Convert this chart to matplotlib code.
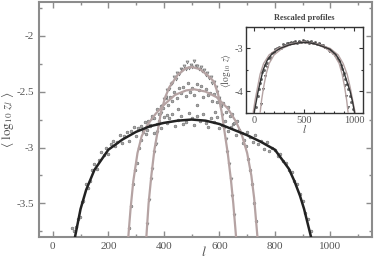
import numpy as np
import matplotlib
matplotlib.use("Agg")
import matplotlib.pyplot as plt
from matplotlib.ticker import MultipleLocator

plt.rcParams['font.family'] = ['Liberation Serif', 'DejaVu Serif']
plt.rcParams['mathtext.fontset'] = 'stix'

# ---- main panel: fitted lines ----
black_lx = [80, 100, 120, 150, 200, 250, 300, 350, 400, 450, 500, 550, 600, 650,
            700, 750, 800, 850, 870, 890, 905, 920, 930]
black_ly = [-3.80, -3.55, -3.38, -3.20, -3.02, -2.93, -2.86, -2.81, -2.78, -2.76,
            -2.75, -2.76, -2.79, -2.84, -2.89, -2.95, -3.02, -3.19, -3.30, -3.43,
            -3.55, -3.70, -3.80]

mid_lx = [272, 280, 290, 305, 320, 340, 370, 400, 440, 480, 510, 550, 590, 630,
          660, 680, 700, 715, 725, 737]
mid_ly = [-3.80, -3.55, -3.30, -3.05, -2.90, -2.80, -2.70, -2.62, -2.53, -2.49,
          -2.48, -2.50, -2.55, -2.65, -2.77, -2.88, -3.05, -3.25, -3.45, -3.80]

nar_lx = [337, 345, 355, 366, 378, 390, 405, 420, 450, 480, 500, 530, 560, 580,
          595, 608, 618, 630, 642, 650, 660]
nar_ly = [-3.80, -3.50, -3.25, -3.02, -2.85, -2.68, -2.55, -2.46, -2.35, -2.29,
          -2.28, -2.30, -2.36, -2.41, -2.52, -2.68, -2.85, -3.05, -3.30, -3.50, -3.80]

# ---- main panel: measured points ----
black_px = [70, 78, 84, 90, 97, 104, 110, 118, 126, 133, 141, 150, 158, 166, 175,
            183, 191, 200, 208, 216, 225, 233, 241, 250, 258, 266, 275, 283, 291,
            300, 308, 316, 325, 333, 341, 350, 358, 366, 375, 383, 391, 400, 410,
            420, 430, 440, 450, 460, 470, 480, 490, 500, 510, 520, 530, 540, 550,
            560, 570, 580, 590, 600, 610, 620, 630, 640, 650, 660, 670, 680, 690,
            700, 710, 720, 730, 740, 750, 760, 770, 780, 790, 800, 810, 820, 830,
            840, 850, 860, 870, 880, 890, 900, 910, 920, 930]
black_py = [-3.72, -3.75, -3.71, -3.64, -3.62, -3.49, -3.48, -3.33, -3.36, -3.30,
            -3.20, -3.15, -3.19, -3.11, -3.04, -3.07, -3.00, -3.06, -2.97, -2.94,
            -2.99, -2.95, -2.89, -2.96, -2.90, -2.86, -2.94, -2.85, -2.82, -2.90,
            -2.83, -2.81, -2.86, -2.77, -2.84, -2.80, -2.74, -2.87, -2.79, -2.76,
            -2.83, -2.73, -2.78, -2.74, -2.70, -2.81, -2.75, -2.72, -2.79, -2.77,
            -2.69, -2.74, -2.80, -2.72, -2.76, -2.70, -2.78, -2.82, -2.74, -2.77,
            -2.73, -2.83, -2.80, -2.76, -2.85, -2.82, -2.79, -2.89, -2.84, -2.87,
            -2.93, -2.86, -2.91, -2.95, -2.89, -2.97, -2.94, -3.01, -2.95, -3.03,
            -3.00, -3.02, -3.08, -3.06, -3.12, -3.14, -3.20, -3.22, -3.30, -3.33,
            -3.42, -3.48, -3.59, -3.64, -3.75]

mid_px = [275, 282, 290, 296, 303, 310, 318, 326, 334, 342, 350, 358, 366, 374,
          382, 390, 398, 406, 414, 422, 430, 438, 446, 454, 462, 470, 478, 486,
          494, 502, 510, 518, 526, 534, 542, 550, 558, 566, 574, 582, 590, 598,
          606, 614, 622, 630, 638, 646, 654, 662, 670, 678, 686, 694, 702, 710,
          718, 726, 733, 452, 520, 585, 410]
mid_py = [-3.72, -3.52, -3.33, -3.20, -3.14, -3.00, -2.93, -2.84, -2.88, -2.76,
          -2.81, -2.72, -2.74, -2.66, -2.70, -2.63, -2.65, -2.56, -2.62, -2.55,
          -2.58, -2.50, -2.56, -2.47, -2.51, -2.46, -2.54, -2.42, -2.50, -2.47,
          -2.53, -2.43, -2.49, -2.45, -2.55, -2.48, -2.53, -2.51, -2.58, -2.52,
          -2.59, -2.57, -2.63, -2.60, -2.68, -2.64, -2.72, -2.70, -2.78, -2.76,
          -2.84, -2.87, -2.96, -2.99, -3.10, -3.20, -3.33, -3.50, -3.66, -2.66,
          -2.62, -2.68, -2.71]

nar_px = [340, 346, 352, 358, 364, 370, 376, 382, 388, 394, 400, 406, 412, 418,
          424, 430, 436, 442, 448, 454, 460, 466, 472, 478, 484, 490, 496, 502,
          508, 514, 520, 526, 532, 538, 544, 550, 556, 562, 568, 574, 580, 586,
          592, 598, 604, 610, 616, 622, 628, 634, 640, 646, 652]
nar_py = [-3.68, -3.47, -3.28, -3.19, -3.04, -2.97, -2.86, -2.79, -2.69, -2.63,
          -2.57, -2.55, -2.49, -2.48, -2.43, -2.42, -2.37, -2.39, -2.33, -2.34,
          -2.30, -2.31, -2.27, -2.30, -2.24, -2.29, -2.26, -2.28, -2.23, -2.27,
          -2.27, -2.30, -2.28, -2.32, -2.31, -2.35, -2.33, -2.38, -2.37, -2.42,
          -2.41, -2.46, -2.50, -2.56, -2.62, -2.71, -2.83, -2.92, -3.04, -3.15,
          -3.28, -3.43, -3.60]

# ---- inset: rescaled profiles ----
in_black_x = [0, 20, 40, 65, 90, 130, 180, 260, 350, 450, 520, 600, 680, 760, 820,
              860, 890, 925, 960, 985, 1005]
in_black_y = [-4.5, -4.25, -4.0, -3.75, -3.5, -3.28, -3.12, -3.0, -2.92, -2.87,
              -2.86, -2.89, -2.95, -3.02, -3.15, -3.3, -3.5, -3.75, -4.0, -4.25, -4.5]
in_p1_x = [60, 75, 95, 120, 150, 200, 280, 380, 500, 620, 720, 800, 850, 880, 905,
           925, 940]
in_p1_y = [-4.5, -4.2, -3.9, -3.6, -3.35, -3.15, -3.0, -2.9, -2.86, -2.9, -3.0,
           -3.15, -3.35, -3.6, -3.9, -4.2, -4.5]
in_p2_x = [-10, 10, 35, 60, 95, 150, 240, 360, 500, 640, 760, 840, 890, 930, 960,
           985, 1010]
in_p2_y = [-4.5, -4.2, -3.9, -3.6, -3.35, -3.15, -3.0, -2.9, -2.85, -2.9, -3.0,
           -3.15, -3.35, -3.6, -3.9, -4.2, -4.5]

in_cx = [20, 35, 50, 60, 70, 80, 95, 110, 125, 140, 160, 175, 195, 210, 230, 250,
         270, 290, 310, 330, 350, 370, 390, 410, 430, 450, 470, 490, 510, 530, 550,
         570, 590, 610, 630, 650, 670, 690, 710, 730, 750, 770, 790, 810, 830, 850,
         865, 880, 895, 910, 925, 940, 955, 970, 990]
in_cy = [-4.35, -4.1, -3.95, -3.8, -3.7, -3.55, -3.5, -3.38, -3.35, -3.22, -3.2,
         -3.1, -3.08, -3.02, -3.0, -2.96, -2.98, -2.9, -2.93, -2.88, -2.9, -2.85,
         -2.88, -2.83, -2.87, -2.82, -2.86, -2.8, -2.85, -2.82, -2.87, -2.83, -2.88,
         -2.85, -2.9, -2.88, -2.93, -2.92, -2.97, -2.98, -3.02, -3.05, -3.1, -3.15,
         -3.22, -3.3, -3.38, -3.48, -3.58, -3.7, -3.82, -3.95, -4.1, -4.25, -4.4]
in_tx = [70, 90, 105, 130, 160, 200, 250, 300, 350, 400, 450, 500, 550, 600, 650,
         700, 750, 800, 840, 870, 890, 905, 920, 935]
in_ty = [-4.3, -3.95, -3.65, -3.42, -3.25, -3.1, -3.0, -2.95, -2.88, -2.86, -2.84,
         -2.82, -2.85, -2.87, -2.9, -2.96, -3.05, -3.12, -3.28, -3.45, -3.62, -3.85,
         -4.1, -4.35]

pink = '#b5a3a3'
frame = '#8c8c8c'
lab = '#555555'

fig = plt.figure(figsize=(3.74, 2.61), dpi=100)
ax = fig.add_axes([0.104, 0.092, 0.891, 0.9])

pt = dict(ms=2.0, mfc='#a8a8a8', mec='#666666', mew=0.4, ls='none', zorder=2)
ax.plot(black_px, black_py, 'o', **pt)
ax.plot(mid_px, mid_py, 'o', **pt)
ax.plot(nar_px, nar_py, 'v', ms=2.2, mfc='#b8b8b8', mec='#666666', mew=0.4,
        ls='none', zorder=2)
ax.plot(mid_lx, mid_ly, color=pink, lw=1.6, zorder=3)
ax.plot(nar_lx, nar_ly, color=pink, lw=1.6, zorder=3)
ax.plot(black_lx, black_ly, color='#222222', lw=1.8, zorder=4)

ax.set_xlim(-50, 1150)
ax.set_ylim(-3.8, -1.7)
ax.xaxis.set_major_locator(MultipleLocator(200))
ax.xaxis.set_minor_locator(MultipleLocator(100))
ax.yaxis.set_major_locator(MultipleLocator(0.5))
ax.yaxis.set_minor_locator(MultipleLocator(0.25))
ax.tick_params(which='both', direction='in', top=True, right=True, colors=frame,
               labelcolor=lab, labelsize=8, width=1)
ax.tick_params(which='major', length=4)
ax.tick_params(which='minor', length=2)
ax.set_yticks([-3.5, -3, -2.5, -2])
ax.set_yticklabels(['-3.5', '-3', '-2.5', '-2'])
for s in ax.spines.values():
    s.set_color(frame)
    s.set_linewidth(1.5)
ax.set_xlabel(r'$l$', fontsize=10, color=lab)
ax.xaxis.set_label_coords(0.495, -0.035)
ax.xaxis.label.set_verticalalignment('top')
ax.set_ylabel(r'$\langle\ \log_{10}\, z_l\ \rangle$', fontsize=9.5, color=lab)
ax.yaxis.set_label_coords(-0.068, 0.5)

# inset
ia = fig.add_axes([0.658, 0.567, 0.313, 0.330])
ia.plot(in_cx, in_cy, 'o', ms=1.6, mfc='#666666', mec='#333333', mew=0.3, zorder=2)
ia.plot(in_tx, in_ty, 'v', ms=1.8, mfc='#888888', mec='#333333', mew=0.3, zorder=2)
ia.plot(in_p1_x, in_p1_y, color=pink, lw=1.0, zorder=3)
ia.plot(in_p2_x, in_p2_y, color=pink, lw=1.0, zorder=3)
ia.plot(in_black_x, in_black_y, color='#333333', lw=1.0, zorder=4)
ia.set_xlim(-80, 1090)
ia.set_ylim(-4.5, -2.5)
ia.xaxis.set_major_locator(MultipleLocator(500))
ia.xaxis.set_minor_locator(MultipleLocator(100))
ia.yaxis.set_major_locator(MultipleLocator(1))
ia.yaxis.set_minor_locator(MultipleLocator(0.5))
ia.tick_params(which='both', direction='in', top=True, right=True, colors='#333333',
               labelcolor=lab, labelsize=7.5, width=0.8, pad=2)
ia.tick_params(which='major', length=3)
ia.tick_params(which='minor', length=1.5)
ia.set_yticks([-4, -3])
ia.set_yticklabels(['-4', '-3'])
for s in ia.spines.values():
    s.set_color('#333333')
    s.set_linewidth(1.0)
ia.set_title('Rescaled profiles', fontsize=6, fontweight='bold', color='#444444', pad=5)
ia.set_xlabel(r'$l$', fontsize=8, color=lab, labelpad=-1)
ia.set_ylabel(r'$\langle\log_{10}\, z\rangle$', fontsize=7, color=lab, labelpad=1)

fig.savefig('out.png', dpi=100)
